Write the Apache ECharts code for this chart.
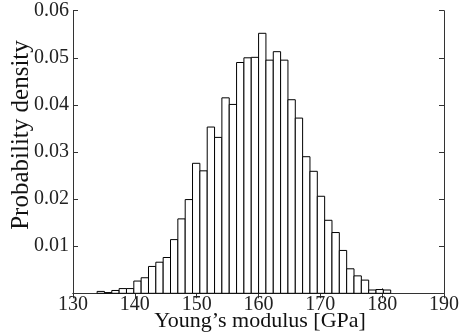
<!DOCTYPE html>
<html>
<head>
<meta charset="utf-8">
<script src="https://cdn.jsdelivr.net/npm/echarts@6/dist/echarts.min.js"></script>
<style>html,body{margin:0;padding:0;background:#fff;}#c{width:462px;height:335px;}</style>
</head>
<body>
<div id="c"></div>
<script>
// Histogram data
const binStart = 133.9;   // left edge of first bin [GPa]
const binWidth = 1.187;   // bin width [GPa]
const density = [0.0004,0.00015,0.0006,0.001,0.001,0.0026,0.0033,0.0057,0.0066,0.0076,
                 0.0114,0.0158,0.0199,0.0276,0.0260,0.0353,0.0331,0.0415,0.0401,0.0490,
                 0.0500,0.0501,0.0552,0.0495,0.0513,0.0495,0.0411,0.0372,0.0290,0.0259,
                 0.0206,0.0155,0.0129,0.0091,0.0052,0.0037,0.0028,0.0007,0.0008,0.0007];
const xTicks = [130,140,150,160,170,180,190];
const yTicks = [0.01,0.02,0.03,0.04,0.05,0.06];
const xTitle = 'Young\u2019s modulus [GPa]';
const yTitle = 'Probability density';

const FONT = 'Liberation Serif';
const bins = density.map((d,i)=>[binStart+i*binWidth, binStart+(i+1)*binWidth, d]);

const chart = echarts.init(document.getElementById('c'), null, {renderer:'canvas'});
const axisLine = {show:true, lineStyle:{color:'#333', width:1}};
const tick = {show:true, inside:true, length:5, lineStyle:{color:'#333', width:1}};
chart.setOption({
  animation:false,
  backgroundColor:'#fff',
  grid:{left:73, right:15.3, top:10.7, bottom:41.7, containLabel:false},
  xAxis:[
    {type:'value', min:130, max:190, interval:10, position:'bottom',
     axisLine, axisTick:tick, splitLine:{show:false},
     axisLabel:{fontFamily:FONT, fontSize:20, color:'#222', margin:1,
       formatter:v=>xTicks.includes(v)?String(v):''}},
    {type:'value', min:130, max:190, interval:10, position:'top',
     axisLine, axisTick:tick, splitLine:{show:false}, axisLabel:{show:false}}
  ],
  yAxis:[
    {type:'value', min:0, max:0.06, interval:0.01, position:'left',
     axisLine, axisTick:tick, splitLine:{show:false},
     axisLabel:{fontFamily:FONT, fontSize:20, color:'#222', margin:4,
       formatter:v=>{const t=yTicks.find(y=>Math.abs(y-v)<1e-9);return t?t.toFixed(2):'';}}},
    {type:'value', min:0, max:0.06, interval:0.01, position:'right',
     axisLine, axisTick:tick, splitLine:{show:false}, axisLabel:{show:false}}
  ],
  series:[{
    type:'custom',
    xAxisIndex:0, yAxisIndex:0,
    data:bins,
    renderItem:function(params, api){
      const p0 = api.coord([api.value(0), api.value(2)]);
      const p1 = api.coord([api.value(1), 0]);
      return {type:'rect',
        shape:{x:p0[0], y:p0[1], width:p1[0]-p0[0], height:p1[1]-p0[1]},
        style:{fill:'#fff', stroke:'#000', lineWidth:1}};
    }
  }],
  graphic:[
    {type:'text', x:260, y:321, style:{text:xTitle, fontFamily:FONT, fontSize:22, fill:'#111',
      textAlign:'center', textVerticalAlign:'middle'}},
    {type:'text', x:21, y:135, rotation:Math.PI/2, style:{text:yTitle, fontFamily:FONT, fontSize:25, fill:'#111',
      textAlign:'center', textVerticalAlign:'middle'}}
  ]
});
</script>
</body>
</html>
